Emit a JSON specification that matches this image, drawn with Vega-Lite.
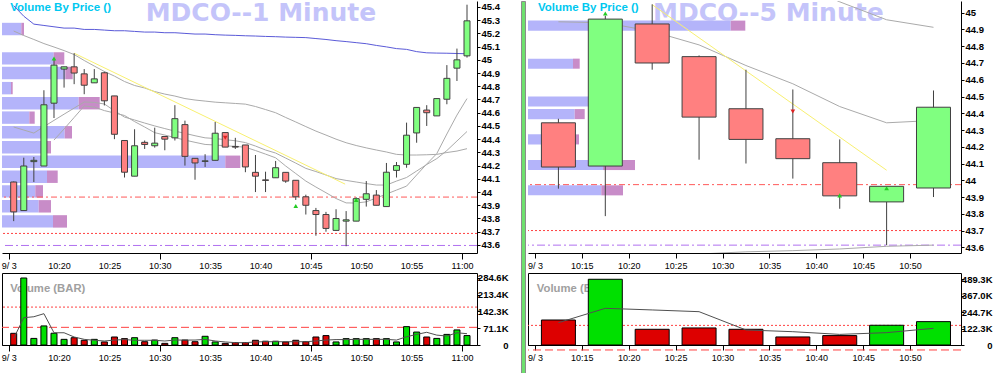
{
"$schema":"https://vega.github.io/schema/vega-lite/v6.json",
"background":"white",
"padding":0,
"config":{"view":{"stroke":null},"axis":{"labelFont":"Liberation Sans","labelOverlap":false},"text":{"font":"Liberation Sans"}},
"datasets":{
"one":[{}],
"L":[
{"t":15.5,"o":44.076,"h":44.08,"l":43.78,"c":43.85,"v":49600,"vm":28000,"m1":45.41,"m2":45.218,"m3":44.492,"m4":null},
{"t":16.5,"o":43.86,"h":44.26,"l":43.86,"c":44.197,"v":284600,"vm":116000,"m1":45.33,"m2":45.184,"m3":44.469,"m4":null},
{"t":17.5,"o":44.23,"h":44.265,"l":44.076,"c":44.24,"v":28000,"vm":120000,"m1":45.27,"m2":45.154,"m3":44.446,"m4":null},
{"t":18.5,"o":44.197,"h":44.77,"l":44.197,"c":44.66,"v":81000,"vm":133000,"m1":45.26,"m2":45.123,"m3":44.495,"m4":null},
{"t":19.5,"o":44.672,"h":45.0,"l":44.56,"c":44.96,"v":50000,"vm":52000,"m1":45.25,"m2":45.097,"m3":44.542,"m4":44.393},
{"t":20.5,"o":44.93,"h":44.947,"l":44.79,"c":44.947,"v":24000,"vm":52000,"m1":45.24,"m2":45.07,"m3":44.589,"m4":44.477},
{"t":21.5,"o":44.947,"h":45.05,"l":44.816,"c":44.9,"v":31000,"vm":34000,"m1":45.24,"m2":45.04,"m3":44.635,"m4":44.564},
{"t":22.5,"o":44.894,"h":44.93,"l":44.74,"c":44.808,"v":20000,"vm":24000,"m1":45.23,"m2":44.995,"m3":44.681,"m4":44.651},
{"t":23.5,"o":44.826,"h":44.93,"l":44.826,"c":44.856,"v":24000,"vm":20000,"m1":45.23,"m2":44.953,"m3":44.678,"m4":44.643},
{"t":24.5,"o":44.902,"h":44.91,"l":44.655,"c":44.69,"v":13000,"vm":17000,"m1":45.225,"m2":44.912,"m3":44.666,"m4":44.616},
{"t":25.5,"o":44.727,"h":44.727,"l":44.4,"c":44.437,"v":34000,"vm":21000,"m1":45.22,"m2":44.877,"m3":44.615,"m4":44.598},
{"t":26.5,"o":44.39,"h":44.39,"l":44.11,"c":44.15,"v":27000,"vm":23000,"m1":45.22,"m2":44.836,"m3":44.567,"m4":44.579},
{"t":27.5,"o":44.12,"h":44.475,"l":44.12,"c":44.35,"v":31000,"vm":20000,"m1":45.215,"m2":44.806,"m3":44.545,"m4":44.533},
{"t":28.5,"o":44.376,"h":44.39,"l":44.326,"c":44.36,"v":14000,"vm":20000,"m1":45.21,"m2":44.787,"m3":44.522,"m4":44.492},
{"t":29.5,"o":44.35,"h":44.487,"l":44.336,"c":44.37,"v":21000,"vm":20000,"m1":45.21,"m2":44.76,"m3":44.5,"m4":44.449},
{"t":30.5,"o":44.42,"h":44.42,"l":44.316,"c":44.4,"v":7000,"vm":17000,"m1":45.205,"m2":44.741,"m3":44.48,"m4":44.431},
{"t":31.5,"o":44.41,"h":44.657,"l":44.39,"c":44.555,"v":31000,"vm":21000,"m1":45.205,"m2":44.726,"m3":44.461,"m4":44.412},
{"t":32.5,"o":44.51,"h":44.54,"l":44.2,"c":44.27,"v":21000,"vm":21000,"m1":45.2,"m2":44.707,"m3":44.444,"m4":44.393},
{"t":33.5,"o":44.255,"h":44.255,"l":44.093,"c":44.22,"v":14000,"vm":21000,"m1":45.195,"m2":44.696,"m3":44.426,"m4":44.376},
{"t":34.5,"o":44.232,"h":44.286,"l":44.19,"c":44.236,"v":37000,"vm":24000,"m1":45.195,"m2":44.688,"m3":44.41,"m4":44.36},
{"t":35.5,"o":44.24,"h":44.53,"l":44.24,"c":44.445,"v":13000,"vm":17000,"m1":45.19,"m2":44.68,"m3":44.405,"m4":44.356},
{"t":36.5,"o":44.45,"h":44.45,"l":44.34,"c":44.34,"v":7000,"vm":13000,"m1":45.187,"m2":44.675,"m3":44.396,"m4":44.35},
{"t":37.5,"o":44.345,"h":44.41,"l":44.326,"c":44.34,"v":10000,"vm":10000,"m1":45.185,"m2":44.67,"m3":44.388,"m4":44.345},
{"t":38.5,"o":44.356,"h":44.356,"l":44.15,"c":44.19,"v":10000,"vm":10000,"m1":45.182,"m2":44.665,"m3":44.374,"m4":44.339},
{"t":39.5,"o":44.149,"h":44.28,"l":44.0,"c":44.12,"v":20000,"vm":13000,"m1":45.18,"m2":44.647,"m3":44.348,"m4":44.314},
{"t":40.5,"o":44.092,"h":44.154,"l":44.0,"c":44.088,"v":16000,"vm":14000,"m1":45.177,"m2":44.624,"m3":44.318,"m4":44.287},
{"t":41.5,"o":44.108,"h":44.235,"l":44.108,"c":44.184,"v":16000,"vm":14000,"m1":45.175,"m2":44.6,"m3":44.295,"m4":44.259},
{"t":42.5,"o":44.149,"h":44.149,"l":44.07,"c":44.083,"v":13000,"vm":14000,"m1":45.172,"m2":44.564,"m3":44.257,"m4":44.197},
{"t":43.5,"o":44.089,"h":44.089,"l":43.94,"c":43.964,"v":20000,"vm":14000,"m1":45.17,"m2":44.53,"m3":44.219,"m4":44.14},
{"t":44.5,"o":43.964,"h":43.98,"l":43.83,"c":43.9,"v":14000,"vm":14000,"m1":45.168,"m2":44.495,"m3":44.179,"m4":44.083},
{"t":45.5,"o":43.86,"h":43.88,"l":43.67,"c":43.83,"v":34000,"vm":17000,"m1":45.161,"m2":44.461,"m3":44.155,"m4":44.038},
{"t":46.5,"o":43.83,"h":43.85,"l":43.7,"c":43.725,"v":40000,"vm":21000,"m1":45.154,"m2":44.431,"m3":44.129,"m4":43.995},
{"t":47.5,"o":43.71,"h":43.87,"l":43.71,"c":43.8,"v":13000,"vm":23000,"m1":45.145,"m2":44.4,"m3":44.102,"m4":43.951},
{"t":48.5,"o":43.78,"h":43.856,"l":43.59,"c":43.79,"v":27000,"vm":23000,"m1":45.138,"m2":44.373,"m3":44.088,"m4":43.918},
{"t":49.5,"o":43.78,"h":43.96,"l":43.78,"c":43.95,"v":27000,"vm":24000,"m1":45.13,"m2":44.352,"m3":44.076,"m4":43.917},
{"t":50.5,"o":43.945,"h":44.083,"l":43.89,"c":43.987,"v":27000,"vm":24000,"m1":45.122,"m2":44.334,"m3":44.064,"m4":43.926},
{"t":51.5,"o":43.977,"h":44.015,"l":43.9,"c":43.9,"v":27000,"vm":24000,"m1":45.109,"m2":44.318,"m3":44.053,"m4":43.955},
{"t":52.5,"o":43.89,"h":44.22,"l":43.89,"c":44.15,"v":27000,"vm":24000,"m1":45.098,"m2":44.303,"m3":44.053,"m4":43.985},
{"t":53.5,"o":44.164,"h":44.227,"l":44.11,"c":44.2,"v":13000,"vm":21000,"m1":45.085,"m2":44.285,"m3":44.083,"m4":44.015},
{"t":54.5,"o":44.21,"h":44.525,"l":44.184,"c":44.43,"v":78000,"vm":35000,"m1":45.079,"m2":44.28,"m3":44.11,"m4":44.045},
{"t":55.5,"o":44.447,"h":44.64,"l":44.373,"c":44.64,"v":55000,"vm":45000,"m1":45.062,"m2":44.28,"m3":44.159,"m4":44.129},
{"t":56.5,"o":44.62,"h":44.657,"l":44.5,"c":44.6,"v":34000,"vm":54000,"m1":45.053,"m2":44.282,"m3":44.208,"m4":44.212},
{"t":57.5,"o":44.576,"h":44.707,"l":44.576,"c":44.707,"v":28000,"vm":42000,"m1":45.051,"m2":44.285,"m3":44.253,"m4":44.291},
{"t":58.5,"o":44.702,"h":44.96,"l":44.664,"c":44.86,"v":45000,"vm":38000,"m1":45.05,"m2":44.299,"m3":44.314,"m4":44.439},
{"t":59.5,"o":44.937,"h":45.085,"l":44.84,"c":45.0,"v":64000,"vm":52000,"m1":45.048,"m2":44.31,"m3":44.386,"m4":44.582},
{"t":60.5,"o":45.03,"h":45.417,"l":45.017,"c":45.295,"v":40000,"vm":48000,"m1":45.046,"m2":44.328,"m3":44.458,"m4":44.707}
],
"R":[
{"t":12.5,"o":44.343,"h":44.367,"l":43.95,"c":44.079,"v":186000,"vm":166000,"m1":44.946,"m2":null,"m3":null},
{"t":17.5,"o":44.085,"h":44.982,"l":43.786,"c":44.962,"v":489300,"vm":273000,"m1":44.94,"m2":null,"m3":null},
{"t":22.5,"o":44.933,"h":45.05,"l":44.66,"c":44.7,"v":117000,"vm":261000,"m1":44.889,"m2":null,"m3":null},
{"t":27.5,"o":44.738,"h":44.745,"l":44.123,"c":44.377,"v":127000,"vm":248000,"m1":44.808,"m2":null,"m3":43.56},
{"t":32.5,"o":44.427,"h":44.66,"l":44.1,"c":44.244,"v":117000,"vm":112000,"m1":44.685,"m2":null,"m3":43.573},
{"t":37.5,"o":44.248,"h":44.542,"l":44.01,"c":44.129,"v":60000,"vm":99000,"m1":44.576,"m2":45.19,"m3":43.58},
{"t":42.5,"o":44.105,"h":44.244,"l":43.83,"c":43.907,"v":70000,"vm":79000,"m1":44.44,"m2":45.065,"m3":43.59},
{"t":47.5,"o":43.871,"h":43.964,"l":43.613,"c":43.964,"v":147000,"vm":92000,"m1":44.343,"m2":44.958,"m3":43.606},
{"t":52.5,"o":43.954,"h":44.536,"l":43.9,"c":44.436,"v":174000,"vm":124000,"m1":44.357,"m2":44.913,"m3":43.613}
],
"vbpL":[
{"lo":45.186,"hi":45.28,"upv":19.3,"totv":22},
{"lo":44.964,"hi":45.058,"upv":51.7,"totv":62.3},
{"lo":44.853,"hi":44.947,"upv":63.3,"totv":70.7},
{"lo":44.739,"hi":44.833,"upv":9,"totv":10.7},
{"lo":44.625,"hi":44.719,"upv":76.7,"totv":97.7},
{"lo":44.516,"hi":44.61,"upv":27.3,"totv":32.7},
{"lo":44.405,"hi":44.499,"upv":62.7,"totv":70},
{"lo":44.292,"hi":44.386,"upv":40.7,"totv":49},
{"lo":44.182,"hi":44.276,"upv":223.3,"totv":238.3},
{"lo":44.069,"hi":44.163,"upv":45,"totv":55.7},
{"lo":43.958,"hi":44.052,"upv":33.3,"totv":41},
{"lo":43.845,"hi":43.939,"upv":36.7,"totv":49},
{"lo":43.731,"hi":43.825,"upv":51,"totv":65}
],
"vbpR":[
{"lo":44.893,"hi":44.953,"upv":202.7,"totv":217.3},
{"lo":44.666,"hi":44.726,"upv":45,"totv":51.7},
{"lo":44.44,"hi":44.5,"upv":70,"totv":78},
{"lo":44.365,"hi":44.425,"upv":46.7,"totv":56.7},
{"lo":44.214,"hi":44.274,"upv":43.3,"totv":51},
{"lo":44.061,"hi":44.121,"upv":75,"totv":107},
{"lo":43.91,"hi":43.97,"upv":73.3,"totv":95}
],
"mkL":[{"t":19.5,"p":45.01,"d":"up"},{"t":36.5,"p":44.411,"d":"down"},{"t":43.5,"p":43.894,"d":"up"},{"t":49.5,"p":43.94,"d":"up"}],
"mkR":[{"t":17.5,"p":44.995,"d":"up"},{"t":37.5,"p":44.41,"d":"down"},{"t":42.5,"p":43.91,"d":"up"},{"t":47.5,"p":43.952,"d":"up"}],
"trL":[{"t":21.5,"p":45.05},{"t":48.4,"p":44.06}],
"trR":[{"t":22.5,"p":45.048},{"t":47.5,"p":44.06}]
},
"spacing":0,
"hconcat":[
{"spacing":2,"vconcat":[
{"width":475,"height":252,"view":{"stroke":null},
"resolve":{"scale":{"x":"independent"}},
"layer":[
{"data":{"name":"vbpL"},"layer":[
{"mark":{"type":"bar","color":"#b4b4fa"},"encoding":{"x":{"field":"upv","type":"quantitative","scale":{"domain":[0,475],"nice":false,"zero":false},"axis":null},"x2":{"datum":0},"y":{"field":"lo","type":"quantitative","scale":{"domain":[43.539,45.445],"nice":false,"zero":false},"axis":{"orient":"right","values":[43.6,43.7,43.8,43.9,44,44.1,44.2,44.3,44.4,44.5,44.6,44.7,44.8,44.9,45,45.1,45.2,45.3,45.4],"format":".1~f","title":null,"grid":false,"tickSize":3,"labelPadding":1,"labelFontSize":9.5,"labelFontWeight":"bold","labelColor":"#000","domainColor":"#000","tickColor":"#000","labelOverlap":false,"minExtent":42}},"y2":{"field":"hi"}}},
{"mark":{"type":"bar","color":"#c88cc8"},"encoding":{"x":{"field":"upv","type":"quantitative","scale":{"domain":[0,475],"nice":false,"zero":false},"axis":null},"x2":{"field":"totv"},"y":{"field":"lo","type":"quantitative","scale":{"domain":[43.539,45.445],"nice":false,"zero":false},"axis":{"orient":"right","values":[43.6,43.7,43.8,43.9,44,44.1,44.2,44.3,44.4,44.5,44.6,44.7,44.8,44.9,45,45.1,45.2,45.3,45.4],"format":".1~f","title":null,"grid":false,"tickSize":3,"labelPadding":1,"labelFontSize":9.5,"labelFontWeight":"bold","labelColor":"#000","domainColor":"#000","tickColor":"#000","labelOverlap":false,"minExtent":42}},"y2":{"field":"hi"}}}
]},
{"layer":[
{"data":{"name":"one"},"mark":{"type":"text","text":"MDCO--1 Minute","font":"DejaVu Sans","fontSize":25,"fontWeight":"bold","color":"#c4c4fa","align":"left","baseline":"alphabetic","clip":true},"encoding":{"x":{"datum":28.6,"type":"quantitative","scale":{"domain":[14.835,60.995],"nice":false,"zero":false}},"y":{"datum":45.294,"type":"quantitative","scale":{"domain":[43.539,45.445],"nice":false,"zero":false},"axis":{"orient":"right","values":[43.6,43.7,43.8,43.9,44,44.1,44.2,44.3,44.4,44.5,44.6,44.7,44.8,44.9,45,45.1,45.2,45.3,45.4],"format":".1~f","title":null,"grid":false,"tickSize":3,"labelPadding":1,"labelFontSize":9.5,"labelFontWeight":"bold","labelColor":"#000","domainColor":"#000","tickColor":"#000","labelOverlap":false,"minExtent":42}}}},
{"data":{"name":"one"},"mark":{"type":"text","text":"Volume By Price ()","fontSize":11.5,"fontWeight":"bold","color":"#00c8f0","align":"left","baseline":"alphabetic"},"encoding":{"x":{"datum":15.156,"type":"quantitative","scale":{"domain":[14.835,60.995],"nice":false,"zero":false}},"y":{"datum":45.369,"type":"quantitative","scale":{"domain":[43.539,45.445],"nice":false,"zero":false},"axis":{"orient":"right","values":[43.6,43.7,43.8,43.9,44,44.1,44.2,44.3,44.4,44.5,44.6,44.7,44.8,44.9,45,45.1,45.2,45.3,45.4],"format":".1~f","title":null,"grid":false,"tickSize":3,"labelPadding":1,"labelFontSize":9.5,"labelFontWeight":"bold","labelColor":"#000","domainColor":"#000","tickColor":"#000","labelOverlap":false,"minExtent":42}}}},
{"data":{"name":"one"},"mark":{"type":"rule","color":"#ff5a5a","strokeDash":[6,3,2,3]},"encoding":{"y":{"datum":43.962,"type":"quantitative","scale":{"domain":[43.539,45.445],"nice":false,"zero":false},"axis":{"orient":"right","values":[43.6,43.7,43.8,43.9,44,44.1,44.2,44.3,44.4,44.5,44.6,44.7,44.8,44.9,45,45.1,45.2,45.3,45.4],"format":".1~f","title":null,"grid":false,"tickSize":3,"labelPadding":1,"labelFontSize":9.5,"labelFontWeight":"bold","labelColor":"#000","domainColor":"#000","tickColor":"#000","labelOverlap":false,"minExtent":42}}}},
{"data":{"name":"one"},"mark":{"type":"rule","color":"#ff4040","strokeDash":[2,2]},"encoding":{"y":{"datum":43.687,"type":"quantitative","scale":{"domain":[43.539,45.445],"nice":false,"zero":false},"axis":{"orient":"right","values":[43.6,43.7,43.8,43.9,44,44.1,44.2,44.3,44.4,44.5,44.6,44.7,44.8,44.9,45,45.1,45.2,45.3,45.4],"format":".1~f","title":null,"grid":false,"tickSize":3,"labelPadding":1,"labelFontSize":9.5,"labelFontWeight":"bold","labelColor":"#000","domainColor":"#000","tickColor":"#000","labelOverlap":false,"minExtent":42}}}},
{"data":{"name":"one"},"mark":{"type":"rule","color":"#b070f0","strokeDash":[8,3,2,3]},"encoding":{"y":{"datum":43.596,"type":"quantitative","scale":{"domain":[43.539,45.445],"nice":false,"zero":false},"axis":{"orient":"right","values":[43.6,43.7,43.8,43.9,44,44.1,44.2,44.3,44.4,44.5,44.6,44.7,44.8,44.9,45,45.1,45.2,45.3,45.4],"format":".1~f","title":null,"grid":false,"tickSize":3,"labelPadding":1,"labelFontSize":9.5,"labelFontWeight":"bold","labelColor":"#000","domainColor":"#000","tickColor":"#000","labelOverlap":false,"minExtent":42}}}},
{"data":{"name":"L"},"mark":{"type":"line","color":"#5a5ad8","strokeWidth":1,"clip":true},"encoding":{"x":{"field":"t","type":"quantitative","scale":{"domain":[14.835,60.995],"nice":false,"zero":false}},"y":{"field":"m1","type":"quantitative","scale":{"domain":[43.539,45.445],"nice":false,"zero":false},"axis":{"orient":"right","values":[43.6,43.7,43.8,43.9,44,44.1,44.2,44.3,44.4,44.5,44.6,44.7,44.8,44.9,45,45.1,45.2,45.3,45.4],"format":".1~f","title":null,"grid":false,"tickSize":3,"labelPadding":1,"labelFontSize":9.5,"labelFontWeight":"bold","labelColor":"#000","domainColor":"#000","tickColor":"#000","labelOverlap":false,"minExtent":42}}}},
{"data":{"name":"L"},"mark":{"type":"line","color":"#aaaaaa","strokeWidth":1,"clip":true},"encoding":{"x":{"field":"t","type":"quantitative","scale":{"domain":[14.835,60.995],"nice":false,"zero":false}},"y":{"field":"m2","type":"quantitative","scale":{"domain":[43.539,45.445],"nice":false,"zero":false},"axis":{"orient":"right","values":[43.6,43.7,43.8,43.9,44,44.1,44.2,44.3,44.4,44.5,44.6,44.7,44.8,44.9,45,45.1,45.2,45.3,45.4],"format":".1~f","title":null,"grid":false,"tickSize":3,"labelPadding":1,"labelFontSize":9.5,"labelFontWeight":"bold","labelColor":"#000","domainColor":"#000","tickColor":"#000","labelOverlap":false,"minExtent":42}}}},
{"data":{"name":"L"},"mark":{"type":"line","color":"#aaaaaa","strokeWidth":1,"clip":true},"encoding":{"x":{"field":"t","type":"quantitative","scale":{"domain":[14.835,60.995],"nice":false,"zero":false}},"y":{"field":"m3","type":"quantitative","scale":{"domain":[43.539,45.445],"nice":false,"zero":false},"axis":{"orient":"right","values":[43.6,43.7,43.8,43.9,44,44.1,44.2,44.3,44.4,44.5,44.6,44.7,44.8,44.9,45,45.1,45.2,45.3,45.4],"format":".1~f","title":null,"grid":false,"tickSize":3,"labelPadding":1,"labelFontSize":9.5,"labelFontWeight":"bold","labelColor":"#000","domainColor":"#000","tickColor":"#000","labelOverlap":false,"minExtent":42}}}},
{"data":{"name":"L"},"mark":{"type":"line","color":"#aaaaaa","strokeWidth":1,"clip":true},"encoding":{"x":{"field":"t","type":"quantitative","scale":{"domain":[14.835,60.995],"nice":false,"zero":false}},"y":{"field":"m4","type":"quantitative","scale":{"domain":[43.539,45.445],"nice":false,"zero":false},"axis":{"orient":"right","values":[43.6,43.7,43.8,43.9,44,44.1,44.2,44.3,44.4,44.5,44.6,44.7,44.8,44.9,45,45.1,45.2,45.3,45.4],"format":".1~f","title":null,"grid":false,"tickSize":3,"labelPadding":1,"labelFontSize":9.5,"labelFontWeight":"bold","labelColor":"#000","domainColor":"#000","tickColor":"#000","labelOverlap":false,"minExtent":42}}}},
{"data":{"name":"trL"},"mark":{"type":"line","color":"#f8f070","strokeWidth":1},"encoding":{"x":{"field":"t","type":"quantitative","scale":{"domain":[14.835,60.995],"nice":false,"zero":false}},"y":{"field":"p","type":"quantitative","scale":{"domain":[43.539,45.445],"nice":false,"zero":false},"axis":{"orient":"right","values":[43.6,43.7,43.8,43.9,44,44.1,44.2,44.3,44.4,44.5,44.6,44.7,44.8,44.9,45,45.1,45.2,45.3,45.4],"format":".1~f","title":null,"grid":false,"tickSize":3,"labelPadding":1,"labelFontSize":9.5,"labelFontWeight":"bold","labelColor":"#000","domainColor":"#000","tickColor":"#000","labelOverlap":false,"minExtent":42}}}},
{"data":{"name":"L"},"mark":{"type":"rule","color":"#404040"},"encoding":{"x":{"field":"t","type":"quantitative","scale":{"domain":[14.835,60.995],"nice":false,"zero":false},"axis":{"values":[15,20,25,30,35,40,45,50,55,60],"labelExpr":"datum.value == 15 ? '9/ 3' : (datum.value >= 60 ? '11:0' + (datum.value - 60) : '10:' + datum.value)","labelAlign":"center","labelFlush":5,"title":null,"grid":false,"tickSize":6,"tickOpacity":{"condition":{"test":"datum.value % 15 == 0","value":1},"value":0},"labelPadding":2,"labelFontSize":9,"labelColor":"#000","domainColor":"#000","tickColor":"#000","labelOverlap":false}},"y":{"field":"l","type":"quantitative","scale":{"domain":[43.539,45.445],"nice":false,"zero":false},"axis":{"orient":"right","values":[43.6,43.7,43.8,43.9,44,44.1,44.2,44.3,44.4,44.5,44.6,44.7,44.8,44.9,45,45.1,45.2,45.3,45.4],"format":".1~f","title":null,"grid":false,"tickSize":3,"labelPadding":1,"labelFontSize":9.5,"labelFontWeight":"bold","labelColor":"#000","domainColor":"#000","tickColor":"#000","labelOverlap":false,"minExtent":42}},"y2":{"field":"h"}}},
{"data":{"name":"L"},"mark":{"type":"bar","size":6,"stroke":"#404040","strokeWidth":1},"encoding":{"x":{"field":"t","type":"quantitative","scale":{"domain":[14.835,60.995],"nice":false,"zero":false}},"y":{"field":"o","type":"quantitative","scale":{"domain":[43.539,45.445],"nice":false,"zero":false},"axis":{"orient":"right","values":[43.6,43.7,43.8,43.9,44,44.1,44.2,44.3,44.4,44.5,44.6,44.7,44.8,44.9,45,45.1,45.2,45.3,45.4],"format":".1~f","title":null,"grid":false,"tickSize":3,"labelPadding":1,"labelFontSize":9.5,"labelFontWeight":"bold","labelColor":"#000","domainColor":"#000","tickColor":"#000","labelOverlap":false,"minExtent":42}},"y2":{"field":"c"},"fill":{"condition":{"test":"datum.c >= datum.o","value":"#80ff80"},"value":"#ff8080"}}},
{"data":{"name":"mkL"},"mark":{"type":"point","filled":true,"size":22,"opacity":1},"encoding":{"x":{"field":"t","type":"quantitative","scale":{"domain":[14.835,60.995],"nice":false,"zero":false}},"y":{"field":"p","type":"quantitative","scale":{"domain":[43.539,45.445],"nice":false,"zero":false},"axis":{"orient":"right","values":[43.6,43.7,43.8,43.9,44,44.1,44.2,44.3,44.4,44.5,44.6,44.7,44.8,44.9,45,45.1,45.2,45.3,45.4],"format":".1~f","title":null,"grid":false,"tickSize":3,"labelPadding":1,"labelFontSize":9.5,"labelFontWeight":"bold","labelColor":"#000","domainColor":"#000","tickColor":"#000","labelOverlap":false,"minExtent":42}},"shape":{"field":"d","type":"nominal","scale":{"domain":["up","down"],"range":["triangle-up","triangle-down"]},"legend":null},"color":{"field":"d","type":"nominal","scale":{"domain":["up","down"],"range":["#22cc22","#dd2222"]},"legend":null}}}
]}
]},
{"width":475,"height":72,"view":{"stroke":"#000"},
"layer":[
{"data":{"name":"one"},"mark":{"type":"text","text":"Volume (BAR)","fontSize":11.3,"fontWeight":"bold","color":"#a0a0a0","align":"left","baseline":"alphabetic"},"encoding":{"x":{"datum":15.156,"type":"quantitative","scale":{"domain":[14.835,60.995],"nice":false,"zero":false}},"y":{"datum":225000,"type":"quantitative","scale":{"domain":[0,305800],"nice":false},"axis":{"orient":"right","values":[0,71140,142300,213440,284600],"labelExpr":"datum.value == 0 ? '0' : format(datum.value / 1000, '.1f') + 'K'","title":null,"grid":false,"domain":false,"tickSize":3,"labelPadding":28,"labelAlign":"right","labelFontSize":9.5,"labelFontWeight":"bold","labelColor":"#000","tickColor":"#000","labelOverlap":false,"minExtent":42}}}},
{"data":{"name":"one"},"mark":{"type":"rule","color":"#ff4040","strokeDash":[2,2]},"encoding":{"y":{"datum":161000,"type":"quantitative","scale":{"domain":[0,305800],"nice":false},"axis":{"orient":"right","values":[0,71140,142300,213440,284600],"labelExpr":"datum.value == 0 ? '0' : format(datum.value / 1000, '.1f') + 'K'","title":null,"grid":false,"domain":false,"tickSize":3,"labelPadding":28,"labelAlign":"right","labelFontSize":9.5,"labelFontWeight":"bold","labelColor":"#000","tickColor":"#000","labelOverlap":false,"minExtent":42}}}},
{"data":{"name":"one"},"mark":{"type":"rule","color":"#ff4040","strokeDash":[8,4]},"encoding":{"y":{"datum":75000,"type":"quantitative","scale":{"domain":[0,305800],"nice":false},"axis":{"orient":"right","values":[0,71140,142300,213440,284600],"labelExpr":"datum.value == 0 ? '0' : format(datum.value / 1000, '.1f') + 'K'","title":null,"grid":false,"domain":false,"tickSize":3,"labelPadding":28,"labelAlign":"right","labelFontSize":9.5,"labelFontWeight":"bold","labelColor":"#000","tickColor":"#000","labelOverlap":false,"minExtent":42}}}},
{"data":{"name":"L"},"mark":{"type":"bar","size":6,"stroke":"#000","strokeWidth":1},"encoding":{"x":{"field":"t","type":"quantitative","scale":{"domain":[14.835,60.995],"nice":false,"zero":false},"axis":{"values":[15,20,25,30,35,40,45,50,55,60],"labelExpr":"datum.value == 15 ? '9/ 3' : (datum.value >= 60 ? '11:0' + (datum.value - 60) : '10:' + datum.value)","labelAlign":"center","labelFlush":5,"title":null,"grid":false,"tickSize":6,"tickOpacity":{"condition":{"test":"datum.value % 15 == 0","value":1},"value":0},"labelPadding":2,"labelFontSize":9,"labelColor":"#000","domainColor":"#000","tickColor":"#000","labelOverlap":false}},"y":{"field":"v","type":"quantitative","scale":{"domain":[0,305800],"nice":false},"axis":{"orient":"right","values":[0,71140,142300,213440,284600],"labelExpr":"datum.value == 0 ? '0' : format(datum.value / 1000, '.1f') + 'K'","title":null,"grid":false,"domain":false,"tickSize":3,"labelPadding":28,"labelAlign":"right","labelFontSize":9.5,"labelFontWeight":"bold","labelColor":"#000","tickColor":"#000","labelOverlap":false,"minExtent":42}},"fill":{"condition":{"test":"datum.c >= datum.o","value":"#00e000"},"value":"#dd0000"}}},
{"data":{"name":"L"},"mark":{"type":"line","color":"#505050","strokeWidth":1},"encoding":{"x":{"field":"t","type":"quantitative","scale":{"domain":[14.835,60.995],"nice":false,"zero":false}},"y":{"field":"vm","type":"quantitative","scale":{"domain":[0,305800],"nice":false},"axis":{"orient":"right","values":[0,71140,142300,213440,284600],"labelExpr":"datum.value == 0 ? '0' : format(datum.value / 1000, '.1f') + 'K'","title":null,"grid":false,"domain":false,"tickSize":3,"labelPadding":28,"labelAlign":"right","labelFontSize":9.5,"labelFontWeight":"bold","labelColor":"#000","tickColor":"#000","labelOverlap":false,"minExtent":42}}}}
]}
]},
{"width":4,"height":373,"data":{"name":"one"},"mark":{"type":"point","opacity":0,"size":1},"view":{"fill":"#6ee06e","stroke":"#8c8c8c"}},
{"spacing":2,"vconcat":[
{"width":433,"height":252,"view":{"stroke":null},
"resolve":{"scale":{"x":"independent"}},
"layer":[
{"data":{"name":"vbpR"},"layer":[
{"mark":{"type":"bar","color":"#b4b4fa"},"encoding":{"x":{"field":"upv","type":"quantitative","scale":{"domain":[0,433],"nice":false,"zero":false},"axis":null},"x2":{"datum":0},"y":{"field":"lo","type":"quantitative","scale":{"domain":[43.566,45.07],"nice":false,"zero":false},"axis":{"orient":"right","values":[43.6,43.7,43.8,43.9,44,44.1,44.2,44.3,44.4,44.5,44.6,44.7,44.8,44.9,45],"format":".1~f","title":null,"grid":false,"tickSize":3,"labelPadding":1,"labelFontSize":9.5,"labelFontWeight":"bold","labelColor":"#000","domainColor":"#000","tickColor":"#000","labelOverlap":false}},"y2":{"field":"hi"}}},
{"mark":{"type":"bar","color":"#c88cc8"},"encoding":{"x":{"field":"upv","type":"quantitative","scale":{"domain":[0,433],"nice":false,"zero":false},"axis":null},"x2":{"field":"totv"},"y":{"field":"lo","type":"quantitative","scale":{"domain":[43.566,45.07],"nice":false,"zero":false},"axis":{"orient":"right","values":[43.6,43.7,43.8,43.9,44,44.1,44.2,44.3,44.4,44.5,44.6,44.7,44.8,44.9,45],"format":".1~f","title":null,"grid":false,"tickSize":3,"labelPadding":1,"labelFontSize":9.5,"labelFontWeight":"bold","labelColor":"#000","domainColor":"#000","tickColor":"#000","labelOverlap":false}},"y2":{"field":"hi"}}}
]},
{"layer":[
{"data":{"name":"one"},"mark":{"type":"text","text":"MDCO--5 Minute","font":"DejaVu Sans","fontSize":25,"fontWeight":"bold","color":"#c4c4fa","align":"left","baseline":"alphabetic","clip":true},"encoding":{"x":{"datum":22.6,"type":"quantitative","scale":{"domain":[9.79,54.9],"nice":false,"zero":false}},"y":{"datum":44.951,"type":"quantitative","scale":{"domain":[43.566,45.07],"nice":false,"zero":false},"axis":{"orient":"right","values":[43.6,43.7,43.8,43.9,44,44.1,44.2,44.3,44.4,44.5,44.6,44.7,44.8,44.9,45],"format":".1~f","title":null,"grid":false,"tickSize":3,"labelPadding":1,"labelFontSize":9.5,"labelFontWeight":"bold","labelColor":"#000","domainColor":"#000","tickColor":"#000","labelOverlap":false}}}},
{"data":{"name":"one"},"mark":{"type":"text","text":"Volume By Price ()","fontSize":11.5,"fontWeight":"bold","color":"#00c8f0","align":"left","baseline":"alphabetic"},"encoding":{"x":{"datum":10.31,"type":"quantitative","scale":{"domain":[9.79,54.9],"nice":false,"zero":false}},"y":{"datum":45.01,"type":"quantitative","scale":{"domain":[43.566,45.07],"nice":false,"zero":false},"axis":{"orient":"right","values":[43.6,43.7,43.8,43.9,44,44.1,44.2,44.3,44.4,44.5,44.6,44.7,44.8,44.9,45],"format":".1~f","title":null,"grid":false,"tickSize":3,"labelPadding":1,"labelFontSize":9.5,"labelFontWeight":"bold","labelColor":"#000","domainColor":"#000","tickColor":"#000","labelOverlap":false}}}},
{"data":{"name":"one"},"mark":{"type":"rule","color":"#ff5a5a","strokeDash":[6,3,2,3]},"encoding":{"y":{"datum":43.974,"type":"quantitative","scale":{"domain":[43.566,45.07],"nice":false,"zero":false},"axis":{"orient":"right","values":[43.6,43.7,43.8,43.9,44,44.1,44.2,44.3,44.4,44.5,44.6,44.7,44.8,44.9,45],"format":".1~f","title":null,"grid":false,"tickSize":3,"labelPadding":1,"labelFontSize":9.5,"labelFontWeight":"bold","labelColor":"#000","domainColor":"#000","tickColor":"#000","labelOverlap":false}}}},
{"data":{"name":"one"},"mark":{"type":"rule","color":"#ff4040","strokeDash":[2,2]},"encoding":{"y":{"datum":43.7,"type":"quantitative","scale":{"domain":[43.566,45.07],"nice":false,"zero":false},"axis":{"orient":"right","values":[43.6,43.7,43.8,43.9,44,44.1,44.2,44.3,44.4,44.5,44.6,44.7,44.8,44.9,45],"format":".1~f","title":null,"grid":false,"tickSize":3,"labelPadding":1,"labelFontSize":9.5,"labelFontWeight":"bold","labelColor":"#000","domainColor":"#000","tickColor":"#000","labelOverlap":false}}}},
{"data":{"name":"one"},"mark":{"type":"rule","color":"#b070f0","strokeDash":[8,3,2,3]},"encoding":{"y":{"datum":43.613,"type":"quantitative","scale":{"domain":[43.566,45.07],"nice":false,"zero":false},"axis":{"orient":"right","values":[43.6,43.7,43.8,43.9,44,44.1,44.2,44.3,44.4,44.5,44.6,44.7,44.8,44.9,45],"format":".1~f","title":null,"grid":false,"tickSize":3,"labelPadding":1,"labelFontSize":9.5,"labelFontWeight":"bold","labelColor":"#000","domainColor":"#000","tickColor":"#000","labelOverlap":false}}}},
{"data":{"name":"R"},"mark":{"type":"line","color":"#aaaaaa","strokeWidth":1,"clip":true},"encoding":{"x":{"field":"t","type":"quantitative","scale":{"domain":[9.79,54.9],"nice":false,"zero":false}},"y":{"field":"m1","type":"quantitative","scale":{"domain":[43.566,45.07],"nice":false,"zero":false},"axis":{"orient":"right","values":[43.6,43.7,43.8,43.9,44,44.1,44.2,44.3,44.4,44.5,44.6,44.7,44.8,44.9,45],"format":".1~f","title":null,"grid":false,"tickSize":3,"labelPadding":1,"labelFontSize":9.5,"labelFontWeight":"bold","labelColor":"#000","domainColor":"#000","tickColor":"#000","labelOverlap":false}}}},
{"data":{"name":"R"},"mark":{"type":"line","color":"#aaaaaa","strokeWidth":1,"clip":true},"encoding":{"x":{"field":"t","type":"quantitative","scale":{"domain":[9.79,54.9],"nice":false,"zero":false}},"y":{"field":"m2","type":"quantitative","scale":{"domain":[43.566,45.07],"nice":false,"zero":false},"axis":{"orient":"right","values":[43.6,43.7,43.8,43.9,44,44.1,44.2,44.3,44.4,44.5,44.6,44.7,44.8,44.9,45],"format":".1~f","title":null,"grid":false,"tickSize":3,"labelPadding":1,"labelFontSize":9.5,"labelFontWeight":"bold","labelColor":"#000","domainColor":"#000","tickColor":"#000","labelOverlap":false}}}},
{"data":{"name":"R"},"mark":{"type":"line","color":"#aaaaaa","strokeWidth":1,"clip":true},"encoding":{"x":{"field":"t","type":"quantitative","scale":{"domain":[9.79,54.9],"nice":false,"zero":false}},"y":{"field":"m3","type":"quantitative","scale":{"domain":[43.566,45.07],"nice":false,"zero":false},"axis":{"orient":"right","values":[43.6,43.7,43.8,43.9,44,44.1,44.2,44.3,44.4,44.5,44.6,44.7,44.8,44.9,45],"format":".1~f","title":null,"grid":false,"tickSize":3,"labelPadding":1,"labelFontSize":9.5,"labelFontWeight":"bold","labelColor":"#000","domainColor":"#000","tickColor":"#000","labelOverlap":false}}}},
{"data":{"name":"trR"},"mark":{"type":"line","color":"#f8f070","strokeWidth":1},"encoding":{"x":{"field":"t","type":"quantitative","scale":{"domain":[9.79,54.9],"nice":false,"zero":false}},"y":{"field":"p","type":"quantitative","scale":{"domain":[43.566,45.07],"nice":false,"zero":false},"axis":{"orient":"right","values":[43.6,43.7,43.8,43.9,44,44.1,44.2,44.3,44.4,44.5,44.6,44.7,44.8,44.9,45],"format":".1~f","title":null,"grid":false,"tickSize":3,"labelPadding":1,"labelFontSize":9.5,"labelFontWeight":"bold","labelColor":"#000","domainColor":"#000","tickColor":"#000","labelOverlap":false}}}},
{"data":{"name":"R"},"mark":{"type":"rule","color":"#404040","clip":true},"encoding":{"x":{"field":"t","type":"quantitative","scale":{"domain":[9.79,54.9],"nice":false,"zero":false},"axis":{"values":[10,15,20,25,30,35,40,45,50],"labelExpr":"datum.value == 10 ? '9/ 3' : '10:' + datum.value","labelAlign":"center","labelFlush":5,"title":null,"grid":false,"tickSize":5,"labelPadding":3,"labelFontSize":9,"labelColor":"#000","domainColor":"#000","tickColor":"#000","labelOverlap":false}},"y":{"field":"l","type":"quantitative","scale":{"domain":[43.566,45.07],"nice":false,"zero":false},"axis":{"orient":"right","values":[43.6,43.7,43.8,43.9,44,44.1,44.2,44.3,44.4,44.5,44.6,44.7,44.8,44.9,45],"format":".1~f","title":null,"grid":false,"tickSize":3,"labelPadding":1,"labelFontSize":9.5,"labelFontWeight":"bold","labelColor":"#000","domainColor":"#000","tickColor":"#000","labelOverlap":false}},"y2":{"field":"h"}}},
{"data":{"name":"R"},"mark":{"type":"bar","size":34,"stroke":"#404040","strokeWidth":1},"encoding":{"x":{"field":"t","type":"quantitative","scale":{"domain":[9.79,54.9],"nice":false,"zero":false}},"y":{"field":"o","type":"quantitative","scale":{"domain":[43.566,45.07],"nice":false,"zero":false},"axis":{"orient":"right","values":[43.6,43.7,43.8,43.9,44,44.1,44.2,44.3,44.4,44.5,44.6,44.7,44.8,44.9,45],"format":".1~f","title":null,"grid":false,"tickSize":3,"labelPadding":1,"labelFontSize":9.5,"labelFontWeight":"bold","labelColor":"#000","domainColor":"#000","tickColor":"#000","labelOverlap":false}},"y2":{"field":"c"},"fill":{"condition":{"test":"datum.c >= datum.o","value":"#80ff80"},"value":"#ff8080"}}},
{"data":{"name":"mkR"},"mark":{"type":"point","filled":true,"size":22,"opacity":1},"encoding":{"x":{"field":"t","type":"quantitative","scale":{"domain":[9.79,54.9],"nice":false,"zero":false}},"y":{"field":"p","type":"quantitative","scale":{"domain":[43.566,45.07],"nice":false,"zero":false},"axis":{"orient":"right","values":[43.6,43.7,43.8,43.9,44,44.1,44.2,44.3,44.4,44.5,44.6,44.7,44.8,44.9,45],"format":".1~f","title":null,"grid":false,"tickSize":3,"labelPadding":1,"labelFontSize":9.5,"labelFontWeight":"bold","labelColor":"#000","domainColor":"#000","tickColor":"#000","labelOverlap":false}},"shape":{"field":"d","type":"nominal","scale":{"domain":["up","down"],"range":["triangle-up","triangle-down"]},"legend":null},"color":{"field":"d","type":"nominal","scale":{"domain":["up","down"],"range":["#22cc22","#dd2222"]},"legend":null}}}
]}
]},
{"width":433,"height":72,"view":{"stroke":"#000"},
"layer":[
{"data":{"name":"one"},"mark":{"type":"text","text":"Volume (BAR)","fontSize":11.3,"fontWeight":"bold","color":"#a0a0a0","align":"left","baseline":"alphabetic"},"encoding":{"x":{"datum":10.2,"type":"quantitative","scale":{"domain":[9.79,54.9],"nice":false,"zero":false}},"y":{"datum":395000,"type":"quantitative","scale":{"domain":[0,536000],"nice":false},"axis":{"orient":"right","values":[0,122330,244660,366990,489300],"labelExpr":"datum.value == 0 ? '0' : format(datum.value / 1000, '.1f') + 'K'","title":null,"grid":false,"domain":false,"tickSize":3,"labelPadding":28,"labelAlign":"right","labelFontSize":9.5,"labelFontWeight":"bold","labelColor":"#000","tickColor":"#000","labelOverlap":false}}}},
{"data":{"name":"one"},"mark":{"type":"rule","color":"#ff4040","strokeDash":[2,2]},"encoding":{"y":{"datum":146000,"type":"quantitative","scale":{"domain":[0,536000],"nice":false},"axis":{"orient":"right","values":[0,122330,244660,366990,489300],"labelExpr":"datum.value == 0 ? '0' : format(datum.value / 1000, '.1f') + 'K'","title":null,"grid":false,"domain":false,"tickSize":3,"labelPadding":28,"labelAlign":"right","labelFontSize":9.5,"labelFontWeight":"bold","labelColor":"#000","tickColor":"#000","labelOverlap":false}}}},
{"data":{"name":"one"},"mark":{"type":"rule","color":"#ff4040","strokeDash":[8,4]},"encoding":{"y":{"datum":-37000,"type":"quantitative","scale":{"domain":[0,536000],"nice":false},"axis":{"orient":"right","values":[0,122330,244660,366990,489300],"labelExpr":"datum.value == 0 ? '0' : format(datum.value / 1000, '.1f') + 'K'","title":null,"grid":false,"domain":false,"tickSize":3,"labelPadding":28,"labelAlign":"right","labelFontSize":9.5,"labelFontWeight":"bold","labelColor":"#000","tickColor":"#000","labelOverlap":false}}}},
{"data":{"name":"R"},"mark":{"type":"bar","size":34,"stroke":"#000","strokeWidth":1},"encoding":{"x":{"field":"t","type":"quantitative","scale":{"domain":[9.79,54.9],"nice":false,"zero":false},"axis":{"values":[10,15,20,25,30,35,40,45,50],"labelExpr":"datum.value == 10 ? '9/ 3' : '10:' + datum.value","labelAlign":"center","labelFlush":5,"title":null,"grid":false,"tickSize":5,"labelPadding":3,"labelFontSize":9,"labelColor":"#000","domainColor":"#000","tickColor":"#000","labelOverlap":false}},"y":{"field":"v","type":"quantitative","scale":{"domain":[0,536000],"nice":false},"axis":{"orient":"right","values":[0,122330,244660,366990,489300],"labelExpr":"datum.value == 0 ? '0' : format(datum.value / 1000, '.1f') + 'K'","title":null,"grid":false,"domain":false,"tickSize":3,"labelPadding":28,"labelAlign":"right","labelFontSize":9.5,"labelFontWeight":"bold","labelColor":"#000","tickColor":"#000","labelOverlap":false}},"fill":{"condition":{"test":"datum.c >= datum.o","value":"#00e000"},"value":"#dd0000"}}},
{"data":{"name":"R"},"mark":{"type":"line","color":"#505050","strokeWidth":1},"encoding":{"x":{"field":"t","type":"quantitative","scale":{"domain":[9.79,54.9],"nice":false,"zero":false}},"y":{"field":"vm","type":"quantitative","scale":{"domain":[0,536000],"nice":false},"axis":{"orient":"right","values":[0,122330,244660,366990,489300],"labelExpr":"datum.value == 0 ? '0' : format(datum.value / 1000, '.1f') + 'K'","title":null,"grid":false,"domain":false,"tickSize":3,"labelPadding":28,"labelAlign":"right","labelFontSize":9.5,"labelFontWeight":"bold","labelColor":"#000","tickColor":"#000","labelOverlap":false}}}}
]}
]}
]
}
